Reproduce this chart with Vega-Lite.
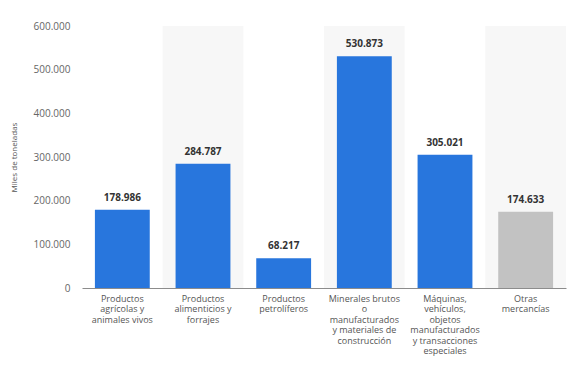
{
  "$schema": "https://vega.github.io/schema/vega-lite/v6.json",
  "autosize": {"type": "none"},
  "width": 484,
  "height": 262,
  "padding": {"left": 82, "top": 26, "right": 12, "bottom": 82},
  "background": "#ffffff",
  "config": {
    "locale": {"number": {"decimal": ",", "thousands": ".", "grouping": [3], "currency": ["", " €"]}},
    "font": "Open Sans",
    "view": {"stroke": null}
  },
  "data": {
    "values": [
      {"categoria": "Productos agrícolas y animales vivos", "valor": 178986, "tipo": "a", "banda": 0},
      {"categoria": "Productos alimenticios y forrajes", "valor": 284787, "tipo": "a", "banda": 1},
      {"categoria": "Productos petrolíferos", "valor": 68217, "tipo": "a", "banda": 0},
      {"categoria": "Minerales brutos o manufacturados y materiales de construcción", "valor": 530873, "tipo": "a", "banda": 1},
      {"categoria": "Máquinas, vehículos, objetos manufacturados y transacciones especiales", "valor": 305021, "tipo": "a", "banda": 0},
      {"categoria": "Otras mercancías", "valor": 174633, "tipo": "b", "banda": 1}
    ]
  },
  "encoding": {
    "x": {
      "field": "categoria",
      "type": "nominal",
      "sort": [
        "Productos agrícolas y animales vivos",
        "Productos alimenticios y forrajes",
        "Productos petrolíferos",
        "Minerales brutos o manufacturados y materiales de construcción",
        "Máquinas, vehículos, objetos manufacturados y transacciones especiales",
        "Otras mercancías"
      ],
      "scale": {"paddingInner": 0.32, "paddingOuter": 0.16},
      "axis": {
        "title": null,
        "labelAngle": 0,
        "ticks": false,
        "domainColor": "#8c8c8c",
        "domainWidth": 1,
        "labelColor": "#555555",
        "labelFontSize": 9,
        "labelLineHeight": 10.5,
        "labelPadding": 6,
        "labelBaseline": "top",
        "labelLimit": 0,
        "labelOverlap": false,
        "labelExpr": "datum.value == 'Productos agrícolas y animales vivos' ? ['Productos','agrícolas y','animales vivos'] : datum.value == 'Productos alimenticios y forrajes' ? ['Productos','alimenticios y','forrajes'] : datum.value == 'Productos petrolíferos' ? ['Productos','petrolíferos'] : datum.value == 'Otras mercancías' ? ['Otras','mercancías'] : datum.value == 'Minerales brutos o manufacturados y materiales de construcción' ? ['Minerales brutos','o','manufacturados','y materiales de','construcción'] : ['Máquinas,','vehículos,','objetos','manufacturados','y transacciones','especiales']"
      }
    }
  },
  "layer": [
    {
      "transform": [{"filter": "datum.banda == 1"}],
      "mark": {"type": "bar", "color": "#f7f7f7", "width": {"band": 1.4706}},
      "encoding": {"y": {"datum": 600000, "type": "quantitative"}}
    },
    {
      "mark": {"type": "bar"},
      "encoding": {
        "y": {
          "field": "valor",
          "type": "quantitative",
          "scale": {"domain": [0, 600000]},
          "axis": {
            "title": "Miles de toneladas",
            "titleFontSize": 8,
            "titleFontWeight": "normal",
            "titleColor": "#555555",
            "titlePadding": 15,
            "format": ",d",
            "values": [0, 100000, 200000, 300000, 400000, 500000, 600000],
            "labelOverlap": false,
            "ticks": false,
            "domain": false,
            "labelColor": "#666666",
            "labelFontSize": 10,
            "labelPadding": 12,
            "gridColor": "#e8e8e8",
            "gridWidth": 1
          }
        },
        "color": {
          "field": "tipo",
          "type": "nominal",
          "scale": {"domain": ["a", "b"], "range": ["#2876dd", "#c2c2c2"]},
          "legend": null
        }
      }
    },
    {
      "mark": {"type": "text", "dy": -7, "fontWeight": "bold", "fontSize": 10, "color": "#333333", "baseline": "bottom"},
      "encoding": {
        "y": {"field": "valor", "type": "quantitative"},
        "text": {"field": "valor", "type": "quantitative", "format": ",d"}
      }
    }
  ]
}
